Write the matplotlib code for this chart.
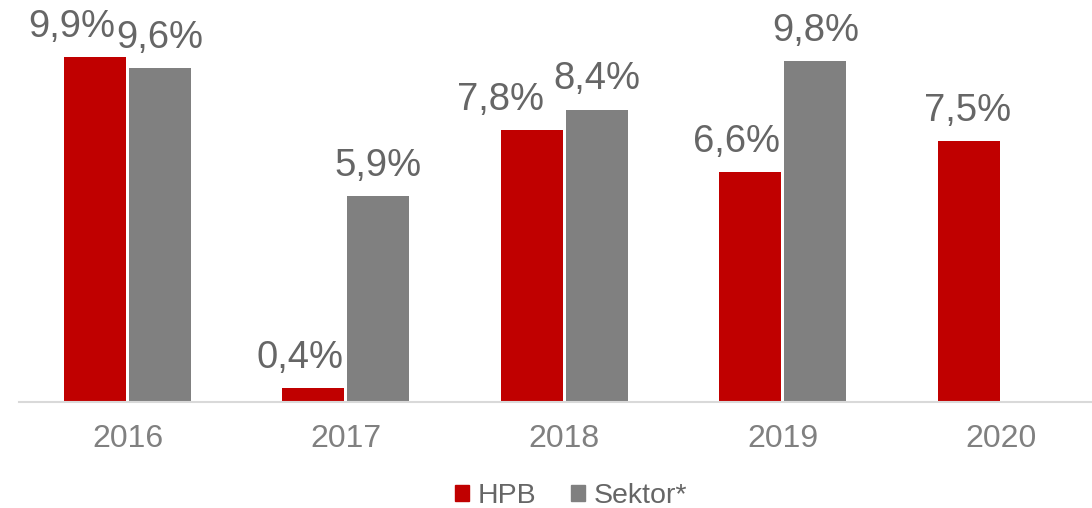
import numpy as np
import matplotlib
matplotlib.use("Agg")
import matplotlib.pyplot as plt
from matplotlib.patches import Patch

plt.rcParams['font.family'] = ['Liberation Sans', 'DejaVu Sans']

godine = ['2016', '2017', '2018', '2019', '2020']
hpb = [9.9, 0.4, 7.8, 6.6, 7.5]
sektor = [9.6, 5.9, 8.4, 9.8, np.nan]

# pomak natpisa HPB ulijevo (u pikselima) da se ne preklapaju
pomak_hpb = [-23, -13, -31, -14, -1]

crvena = '#C00000'
siva = '#808080'
tekst = '#666666'

fig = plt.figure(figsize=(10.92, 5.08), dpi=100)
ax = fig.add_axes([19 / 1092, 106.5 / 508, 1 - 19 / 1092, 401.5 / 508])

x = np.arange(len(godine))
w = 0.284
off = 0.149
ax.bar(x - off, hpb, w, color=crvena)
ax.bar(x + off, sektor, w, color=siva)

ax.set_xlim(-0.4968, 4.416)
ax.set_ylim(0, 11.55)

def fmt(v):
    return ('%.1f%%' % v).replace('.', ',')

for i, v in enumerate(hpb):
    ax.annotate(fmt(v), (x[i] - off, v), xytext=(pomak_hpb[i] * 0.72, 14.4),
                textcoords='offset points', ha='center', va='baseline',
                fontsize=27.5, color=tekst, annotation_clip=False)
for i, v in enumerate(sektor):
    if np.isnan(v):
        continue
    ax.annotate(fmt(v), (x[i] + off, v), xytext=(0, 14.4),
                textcoords='offset points', ha='center', va='baseline',
                fontsize=27.5, color=tekst, annotation_clip=False)

for s in ['top', 'right', 'left']:
    ax.spines[s].set_visible(False)
ax.spines['bottom'].set_color('#D9D9D9')
ax.spines['bottom'].set_linewidth(1.5)
ax.set_yticks([])
ax.set_xticks(x)
ax.set_xticklabels(godine, fontsize=23, color=siva)
ax.tick_params(axis='x', length=0, pad=16)

handles = [Patch(color=crvena, label='HPB'), Patch(color=siva, label='Sektor*')]
fig.legend(handles=handles, loc='center', bbox_to_anchor=(571 / 1092, 1 - 496 / 508),
           ncol=2, frameon=False, fontsize=20.5, labelcolor=tekst,
           handlelength=0.5, handleheight=0.5, handletextpad=0.3,
           columnspacing=1.2, borderpad=0, borderaxespad=0)

fig.savefig('out.png', dpi=100)
